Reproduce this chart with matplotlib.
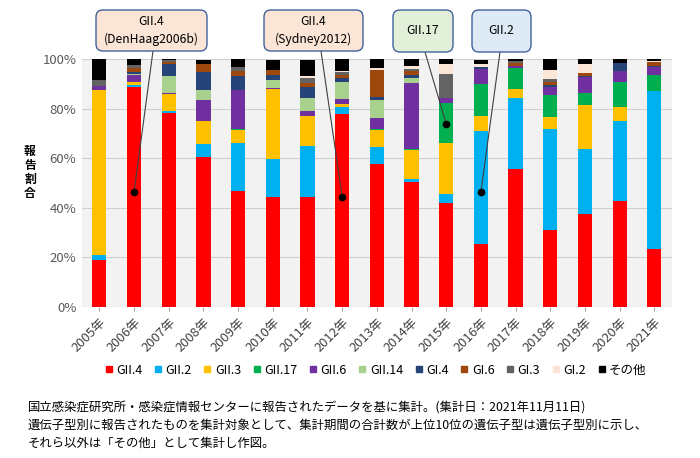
import numpy as np
import matplotlib
matplotlib.use('Agg')
import matplotlib.pyplot as plt
from matplotlib.patches import FancyBboxPatch
from matplotlib.lines import Line2D
from matplotlib.transforms import IdentityTransform

plt.rcParams['font.family'] = ['Noto Sans CJK JP', 'DejaVu Sans']

# data (percent of reports per year)
years = ['2005年', '2006年', '2007年', '2008年', '2009年', '2010年', '2011年', '2012年', '2013年',
         '2014年', '2015年', '2016年', '2017年', '2018年', '2019年', '2020年', '2021年']
gii4 = [19.0, 88.9, 78.3, 60.4, 46.7, 44.3, 44.4, 77.8, 57.7, 50.4, 42.0, 25.2, 55.8, 30.9, 37.5, 42.7, 23.4]
gii2 = [1.7, 0.9, 0.8, 5.4, 19.3, 15.6, 20.7, 3.1, 6.8, 1.4, 3.5, 45.9, 28.6, 41.1, 26.3, 32.2, 63.9]
gii3 = [66.8, 1.1, 6.9, 9.2, 5.4, 28.0, 11.8, 1.2, 6.9, 11.6, 20.6, 6.1, 3.7, 4.6, 17.6, 5.9, 0.0]
gii17 = [0, 0, 0, 0, 0.3, 0, 0, 0, 0.3, 0.4, 16.3, 12.9, 8.2, 9.0, 4.9, 10.1, 6.5]
gii6 = [1.9, 2.6, 0.3, 8.7, 15.7, 0.7, 2.2, 1.9, 4.6, 26.7, 2.0, 6.1, 1.0, 3.3, 6.7, 4.4, 3.0]
gii14 = [0, 0.4, 7.0, 3.8, 0.3, 3.1, 5.3, 6.9, 7.2, 1.9, 0, 0, 0, 0, 0, 0, 0]
gi4 = [0, 1.1, 4.8, 7.3, 5.4, 1.9, 4.6, 1.4, 1.3, 1.4, 0, 0.5, 0, 0.9, 0.3, 3.1, 0.3]
gi6 = [0, 1.6, 0.9, 3.1, 2.3, 2.0, 1.6, 1.5, 10.9, 1.3, 0, 0, 1.3, 1.0, 1.2, 0, 1.9]
gi3 = [2.2, 1.1, 0.8, 0.4, 1.6, 0, 1.8, 0.9, 0, 0.8, 9.8, 0, 0.7, 1.3, 0, 0, 0]
gi2 = [0, 0, 0, 0, 0, 0, 0.9, 0.7, 0.6, 1.5, 3.8, 1.6, 0, 3.6, 3.4, 0, 0.4]
other = [8.4, 2.3, 0.3, 1.6, 3.1, 4.3, 6.6, 4.6, 3.7, 2.6, 2.0, 1.6, 0.7, 4.3, 2.2, 1.6, 0.7]

series_names = ['GII.4', 'GII.2', 'GII.3', 'GII.17', 'GII.6', 'GII.14', 'GI.4', 'GI.6', 'GI.3', 'GI.2', 'その他']
series_vals = [gii4, gii2, gii3, gii17, gii6, gii14, gi4, gi6, gi3, gi2, other]
colors = ['#FF0000', '#00B0F0', '#FFC000', '#00B050', '#7030A0', '#A9D18E',
          '#264478', '#9E480E', '#636363', '#FBE5D6', '#000000']

# annotations: label, bar index, y value (%), box in pixels (left, top, right, bottom), line start x
notes = [('GII.4\n(DenHaag2006b)', 1, 46.3, (96, 10, 207, 51), 153, '#FBE5D6'),
         ('GII.4\n(Sydney2012)', 7, 44.5, (264, 10, 363, 51), 321, '#FBE5D6'),
         ('GII.17', 10, 73.8, (393, 10, 453, 52), 425, '#E2F0D9'),
         ('GII.2', 11, 46.4, (472, 10, 531, 52), 500, '#DEEBF7')]

W, H = 700, 458
fig = plt.figure(figsize=(7, 4.58), dpi=100)
ax = fig.add_axes([82 / W, 1 - 306.7 / H, (671.7 - 82) / W, (306.7 - 59.3) / H])
ax.set_facecolor('#F2F2F2')

x = np.arange(len(years))
bottom = np.zeros(len(years))
for name, vals, c in zip(series_names, series_vals, colors):
    ax.bar(x, vals, 0.41, bottom=bottom, color=c, label=name, zorder=3)
    bottom += np.array(vals)

ax.set_xlim(-0.5, len(years) - 0.5)
ax.set_ylim(0, 100)
ax.set_yticks(np.arange(0, 101, 20))
ax.set_yticklabels([f'{v}%' for v in range(0, 101, 20)], fontsize=9.5, color='#595959')
ax.set_xticks(x)
ax.set_xticklabels(years, rotation=45, ha='right', rotation_mode='anchor', fontsize=9.3, color='#404040')
ax.tick_params(axis='y', length=0, pad=4)
ax.tick_params(axis='x', length=3, color='#A6A6A6')
ax.grid(axis='y', color='#D0D0D0', linewidth=0.8, zorder=0)
for s in ax.spines.values():
    s.set_visible(False)

fig.text(30 / W, 1 - 172 / H, '報\n告\n割\n合', ha='center', va='center', fontsize=8.5,
         fontweight='bold', linespacing=1.1)

# callout boxes
for text, bi, yv, (l, t, r, b), lx, fc in notes:
    box = FancyBboxPatch((l, H - b), r - l, b - t, boxstyle='round,pad=0,rounding_size=7',
                         transform=IdentityTransform(), facecolor=fc, edgecolor='#41619C', linewidth=1)
    fig.patches.append(box)
    fig.text((l + r) / 2 / W, 1 - (t + b) / 2 / H, text, ha='center', va='center', fontsize=8.8,
             linespacing=1.5)
    ax.annotate('', xy=(bi, yv), xytext=(lx, H - b), textcoords='figure pixels',
                arrowprops=dict(arrowstyle='-', color='#404040', lw=0.8, shrinkA=0, shrinkB=0),
                zorder=5)
    ax.plot(bi, yv, 'o', color='black', markersize=4.5, zorder=6)

handles = [Line2D([], [], marker='s', linestyle='none', color=c, markersize=5) for c in colors]
fig.legend(handles, series_names, loc='center', bbox_to_anchor=(0.535, 1 - 370 / H), ncol=11,
           frameon=False, fontsize=9, handletextpad=0.1, columnspacing=0.75, handlelength=1.0)

foot = ['国立感染症研究所・感染症情報センターに報告されたデータを基に集計。(集計日：2021年11月11日)',
        '遺伝子型別に報告されたものを集計対象として、集計期間の合計数が上位10位の遺伝子型は遺伝子型別に示し、',
        'それら以外は「その他」として集計し作図。']
for i, line in enumerate(foot):
    fig.text(28 / W, 1 - (408 + 17.5 * i) / H, line, ha='left', va='center', fontsize=8.9)

fig.savefig('out.png', dpi=100)
